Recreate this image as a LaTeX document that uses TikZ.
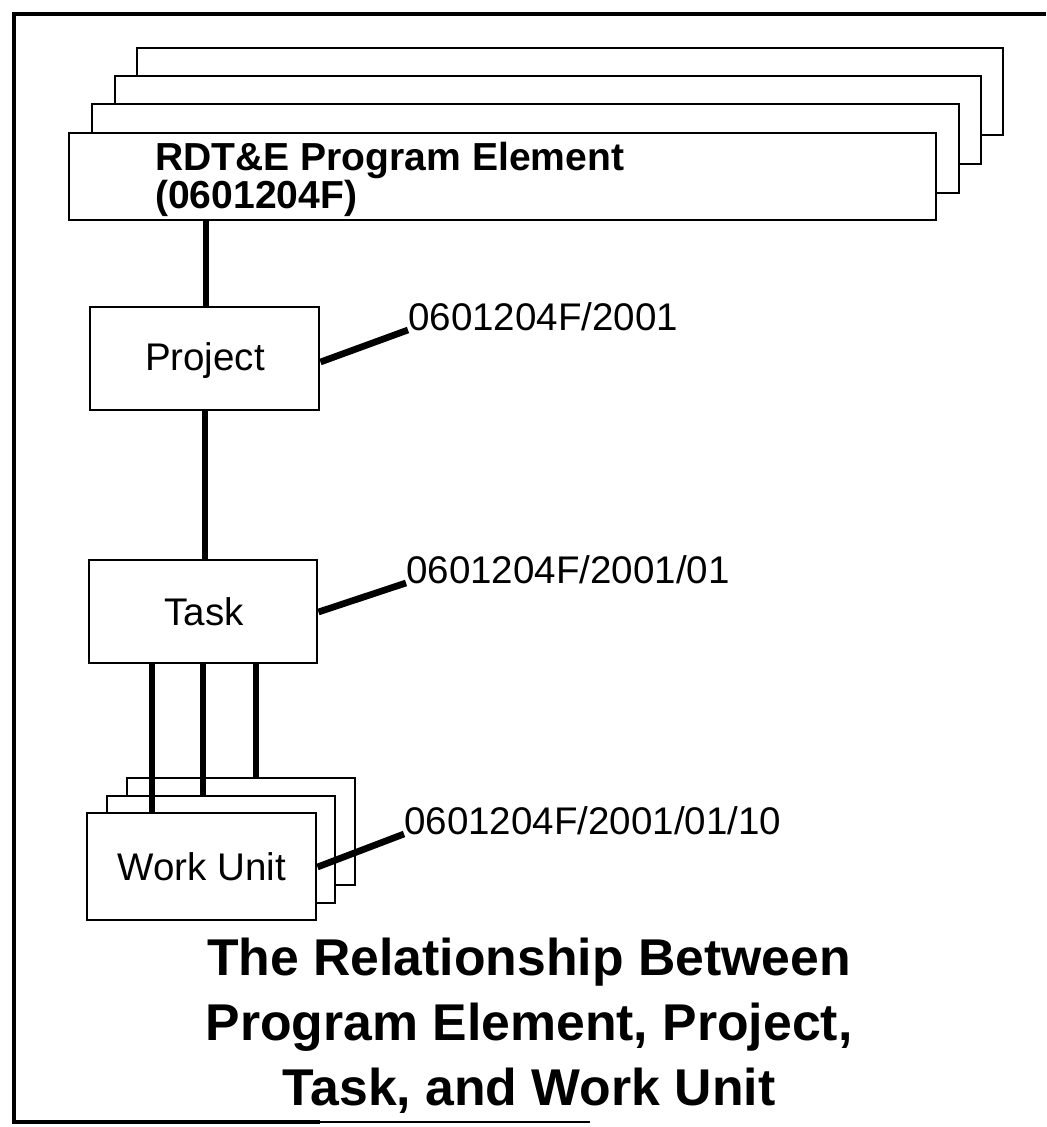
\documentclass[tikz,border=0pt]{standalone}
\usepackage{fontspec}
\setmainfont{Liberation Sans}
\usetikzlibrary{fit}
\begin{document}
\begin{tikzpicture}[x=0.75pt,y=-0.75pt,
  boxst/.style={draw, line width=2.2pt, fill=white, inner sep=0pt},
  link/.style={line width=4.2pt},
  leader/.style={line width=5pt},
  framest/.style={line width=3pt},
  lbl/.style={font=\fontsize{28.9}{34}\selectfont, anchor=base west, inner sep=0pt},
  boxtxt/.style={font=\fontsize{28.9}{34}\selectfont},
  petxt/.style={font=\bfseries\fontsize{29.3}{34}\selectfont, anchor=base west, inner sep=0pt},
  ttl/.style={font=\bfseries\fontsize{38.8}{48}\selectfont, anchor=base, inner sep=0pt}]
\useasboundingbox (0,0) rectangle (1046,1127);
\fill[white] (0,0) rectangle (1046,1127);

% outer frame
\coordinate (ftr) at (1046,14);
\coordinate (ftl) at (14,14);
\coordinate (fbl) at (14,1122);
\coordinate (fbm) at (320,1122);
\coordinate (fbr) at (590,1122);
\draw[framest] (ftr) -- (ftl) -- (fbl) -- (fbm);
\draw[line width=0.9pt] (fbm) -- (fbr);

% program element stack
\node[boxst, fit={(137,48) (1003,135)}] (pe4) {};
\node[boxst, fit={(115,76) (981,164)}] (pe3) {};
\node[boxst, fit={(92,104) (959,193)}] (pe2) {};
\node[boxst, fit={(69,133) (936,220)}] (pe1) {};
\node[petxt] (pea) at (155,171) {RDT\&E Program Element};
\node[petxt] (peb) at (155,208) {(0601204F)};

% project
\node[boxst, fit={(90,307) (319,410)}] (proj) {};
\node[boxtxt, inner sep=0pt, anchor=base] (projt) at (205,370) {Project};

% task
\node[boxst, fit={(89,560) (317,663)}] (task) {};
\node[boxtxt, inner sep=0pt, anchor=base] (taskt) at (204,625) {Task};

% work unit stack
\node[boxst, fit={(127,778) (355,885)}] (wu3) {};
\node[boxst, fit={(107,796) (335,903)}] (wu2) {};
\node[boxst, fit={(87,813) (316,920)}] (wu1) {};
\node[boxtxt, inner sep=0pt, anchor=base] (wut) at (202,880) {Work Unit};

% connectors
\draw[link] (pe1.south -| 206,0) -- (proj.north -| 206,0);
\draw[link] (proj.south -| 205,0) -- (task.north -| 205,0);
\draw[link] (task.south -| 152,0) -- (wu1.north -| 152,0);
\draw[link] (task.south -| 203,0) -- (wu2.north -| 203,0);
\draw[link] (task.south -| 256,0) -- (wu3.north -| 256,0);

% code labels
\node[lbl] (projc) at (408,330) {0601204F/2001};
\node[lbl] (taskc) at (406,583) {0601204F/2001/01};
\node[lbl] (wuc) at (404,834) {0601204F/2001/01/10};
\draw[leader] (proj.east |- 0,362) -- (projc.base west);
\draw[leader] (task.east |- 0,612) -- (taskc.base west);
\draw[leader] (wu1.east |- 0,867) -- (wuc.base west);

% title
\node[ttl] (t1) at (529,975) {The Relationship Between};
\node[ttl] (t2) at (529,1040) {Program Element, Project,};
\node[ttl] (t3) at (529,1105) {Task, and Work Unit};
\end{tikzpicture}
\end{document}
